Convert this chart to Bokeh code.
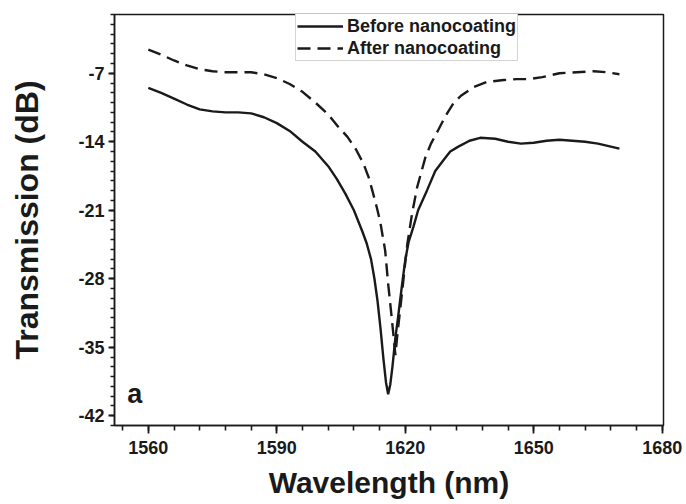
from bokeh.plotting import figure
from bokeh.models import SingleIntervalTicker, Label, Legend, LegendItem, Range1d, CustomJSTickFormatter
from bokeh.embed import file_html
from bokeh.resources import INLINE

# ---- data ----
before_x = [1560, 1563, 1566, 1569, 1572, 1575, 1578, 1581, 1584, 1587, 1590, 1593, 1596,
            1599, 1602, 1604, 1606, 1608, 1610, 1611, 1612, 1612.8, 1613.5, 1614.2, 1614.9,
            1615.5, 1616, 1616.5, 1617, 1617.7, 1618.3, 1618.8, 1619.4, 1620, 1620.8,
            1621.9, 1623, 1625.1, 1627, 1628.9, 1630.5, 1632.4, 1635, 1637.5, 1641, 1644,
            1647, 1650, 1653, 1656, 1659, 1662, 1665, 1668, 1670]
before_y = [-8.5, -9.0, -9.6, -10.2, -10.7, -10.9, -11.0, -11.0, -11.1, -11.5, -12.1, -12.9, -14.0,
            -15.0, -16.5, -17.8, -19.3, -21.0, -23.2, -24.4, -26.0, -28.0, -30.2, -33.0, -36.2,
            -38.6, -39.8, -38.8, -37.0, -34.0, -32.0, -30.2, -28.1, -26.1, -24.2,
            -22.7, -21.0, -18.95, -17.0, -15.9, -15.0, -14.5, -13.9, -13.6, -13.7, -14.0,
            -14.2, -14.1, -13.9, -13.8, -13.9, -14.0, -14.2, -14.5, -14.7]

after_x = [1560, 1563, 1566, 1569, 1572, 1575, 1578, 1581, 1584, 1587, 1590, 1593, 1596,
           1599, 1602, 1604, 1606.5, 1608.5, 1610.2, 1611.5, 1612.5, 1613.4, 1614.2, 1615.3,
           1616, 1616.6, 1617.2, 1617.7, 1618.2, 1618.8, 1619.4, 1620, 1620.5, 1621.6,
           1622.8, 1624.7, 1626, 1627.7, 1629.5, 1631.2, 1633, 1636, 1639, 1643, 1646,
           1649, 1652, 1656, 1660, 1664, 1667, 1670]
after_y = [-4.6, -5.1, -5.7, -6.2, -6.6, -6.8, -6.9, -6.9, -6.9, -7.1, -7.5, -8.1, -8.9,
           -10.0, -11.2, -12.3, -13.5, -14.8, -16.2, -17.7, -19.3, -20.8, -22.3, -25.1,
           -28.5, -31.0, -33.6, -35.8, -33.5, -31.2, -28.8, -26.3, -24.4, -21.3,
           -18.6, -15.6, -14.2, -12.8, -11.3, -10.1, -9.3, -8.4, -7.9, -7.7, -7.6,
           -7.6, -7.4, -7.0, -6.9, -6.8, -6.9, -7.1]

x_tick_step = 30
y_tick_step = 7
series_labels = ["Before nanocoating", "After nanocoating"]
panel_tag = "a"

FONT = "Liberation Sans"
INK = "#1a1a1a"

p = figure(frame_width=549, frame_height=411, output_backend="svg", toolbar_location=None,
           x_range=Range1d(1552.1, 1680.3), y_range=Range1d(-43.0, -1.0),
           min_border_left=114, min_border_right=23, min_border_top=14, min_border_bottom=79)
p.grid.visible = False
p.background_fill_color = "white"
p.border_fill_color = "white"
p.outline_line_color = INK
p.outline_line_width = 1.5

r1 = p.line(before_x, before_y, line_color=INK, line_width=2.4)
r2 = p.line(after_x, after_y, line_color=INK, line_width=2.4, line_dash="13 7")

p.xaxis.ticker = SingleIntervalTicker(interval=x_tick_step, num_minor_ticks=5)
p.yaxis.ticker = SingleIntervalTicker(interval=y_tick_step, num_minor_ticks=7)
fmt = "return tick.toFixed(0);"
p.xaxis.formatter = CustomJSTickFormatter(code=fmt)
p.yaxis.formatter = CustomJSTickFormatter(code=fmt)

for ax in (p.xaxis, p.yaxis):
    ax.axis_line_width = 1.5
    ax.axis_line_color = INK
    ax.major_tick_line_width = 1.8
    ax.minor_tick_line_width = 1.6
    ax.major_tick_line_color = INK
    ax.minor_tick_line_color = INK
    ax.major_tick_in = 0
    ax.minor_tick_in = 0
    ax.major_label_text_font = FONT
    ax.major_label_text_font_style = "bold"
    ax.major_label_text_font_size = "18px"
    ax.major_label_text_color = INK
    ax.axis_label_text_font = FONT
    ax.axis_label_text_font_style = "bold"
    ax.axis_label_text_color = INK

p.xaxis.major_tick_out = 8
p.xaxis.minor_tick_out = 5
p.yaxis.major_tick_out = 6
p.yaxis.minor_tick_out = 4

p.xaxis.major_label_standoff = 7
p.yaxis.major_label_standoff = 4
p.xaxis.axis_label = "Wavelength (nm)"
p.xaxis.axis_label_text_font_size = "30px"
p.xaxis.axis_label_standoff = 9
p.yaxis.axis_label = "Transmission (dB)"
p.yaxis.axis_label_text_font_size = "32px"
p.yaxis.axis_label_standoff = 30

legend = Legend(items=[LegendItem(label=series_labels[0], renderers=[r1]),
                       LegendItem(label=series_labels[1], renderers=[r2])],
                location=(181, 364), orientation="vertical")
legend.label_text_font = FONT
legend.label_text_font_style = "bold"
legend.label_text_font_size = "18px"
legend.label_text_color = INK
legend.border_line_color = "#aaaaaa"
legend.border_line_width = 1
legend.background_fill_alpha = 1.0
legend.padding = 1
legend.spacing = 0
legend.margin = 0
legend.glyph_width = 46
legend.glyph_height = 22
legend.label_height = 22
legend.label_standoff = 4
p.add_layout(legend)

tag = Label(x=1555.1, y=-39.8, text=panel_tag, text_font=FONT, text_font_style="bold",
            text_font_size="27px", text_color=INK, text_baseline="alphabetic")
p.add_layout(tag)

open("out.html", "w").write(file_html(p, INLINE))
